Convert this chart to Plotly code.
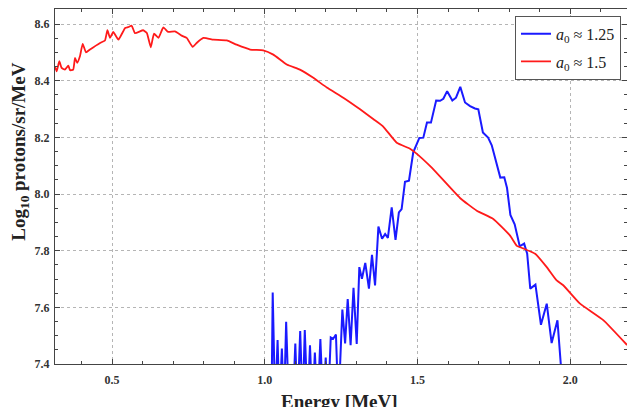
import plotly.graph_objects as go

# ---- data ----
red_energy = [0.313, 0.319, 0.3275, 0.335, 0.346, 0.357, 0.3625, 0.373, 0.379, 0.386,
              0.395, 0.404, 0.415, 0.428, 0.461, 0.477, 0.485, 0.4935, 0.504, 0.521,
              0.543, 0.553, 0.5645, 0.575, 0.602, 0.614, 0.627, 0.6375, 0.652, 0.668,
              0.684, 0.706, 0.728, 0.7445, 0.764, 0.777, 0.799, 0.832, 0.8755, 0.908,
              0.952, 0.995, 1.028, 1.072, 1.115, 1.159, 1.203, 1.257, 1.312, 1.356,
              1.387, 1.432, 1.4755, 1.492, 1.5465, 1.639, 1.694, 1.748, 1.803, 1.825,
              1.846, 1.885, 1.923, 1.9555, 1.977, 2.031, 2.108, 2.186]
red_log = [8.451, 8.433, 8.469, 8.445, 8.439, 8.453, 8.437, 8.439, 8.480, 8.463,
           8.486, 8.530, 8.500, 8.510, 8.533, 8.542, 8.578, 8.551, 8.572, 8.545,
           8.586, 8.589, 8.594, 8.568, 8.578, 8.568, 8.518, 8.566, 8.551, 8.588,
           8.572, 8.574, 8.559, 8.551, 8.519, 8.533, 8.551, 8.545, 8.542, 8.527,
           8.510, 8.507, 8.492, 8.457, 8.439, 8.410, 8.376, 8.340, 8.299, 8.264,
           8.239, 8.181, 8.160, 8.147, 8.093, 7.986, 7.941, 7.912, 7.853, 7.817,
           7.808, 7.789, 7.742, 7.695, 7.678, 7.614, 7.555, 7.467]

blue_energy = [1.022, 1.026, 1.034, 1.042, 1.048, 1.056, 1.063, 1.070, 1.079, 1.092,
               1.100, 1.107, 1.116, 1.124, 1.131, 1.140, 1.148, 1.156, 1.164, 1.173,
               1.182, 1.191, 1.1995, 1.207, 1.216, 1.224, 1.233, 1.241, 1.254, 1.263,
               1.2715, 1.281, 1.2905, 1.301, 1.3095, 1.318, 1.329, 1.341, 1.351, 1.361,
               1.372, 1.384, 1.394, 1.403, 1.4155, 1.428, 1.439, 1.448, 1.459, 1.472,
               1.486, 1.506, 1.519, 1.531, 1.544, 1.561, 1.574, 1.5845, 1.597, 1.614,
               1.626, 1.640, 1.6555, 1.672, 1.688, 1.699, 1.714, 1.731, 1.743, 1.759,
               1.771, 1.784, 1.793, 1.804, 1.818, 1.8345, 1.849, 1.859, 1.869, 1.886,
               1.904, 1.923, 1.939, 1.958, 1.976]
blue_log = [7.25, 7.652, 7.25, 7.485, 7.25, 7.455, 7.25, 7.549, 7.25, 7.25,
            7.472, 7.25, 7.516, 7.25, 7.520, 7.25, 7.466, 7.25, 7.440, 7.25,
            7.488, 7.25, 7.4225, 7.25, 7.494, 7.489, 7.504, 7.25, 7.592, 7.473,
            7.629, 7.466, 7.669, 7.471, 7.742, 7.701, 7.757, 7.666, 7.785, 7.677,
            7.885, 7.842, 7.859, 7.845, 7.953, 7.838, 7.935, 7.947, 8.043, 8.047,
            8.147, 8.198, 8.199, 8.252, 8.252, 8.330, 8.329, 8.336, 8.363, 8.330,
            8.340, 8.378, 8.323, 8.310, 8.302, 8.299, 8.217, 8.199, 8.172, 8.1055,
            8.058, 8.059, 8.021, 7.926, 7.893, 7.8155, 7.825, 7.789, 7.666, 7.680,
            7.5385, 7.613, 7.474, 7.554, 7.30]

x_ticks = [0.5, 1.0, 1.5, 2.0]
x_tick_labels = ["0.5", "1.0", "1.5", "2.0"]
y_ticks = [7.4, 7.6, 7.8, 8.0, 8.2, 8.4, 8.6]
y_tick_labels = ["7.4", "7.6", "7.8", "8.0", "8.2", "8.4", "8.6"]

blue_name = "<i>a</i><sub>0</sub> ≈ 1.25"
red_name = "<i>a</i><sub>0</sub> ≈ 1.5"

SERIF = "Liberation Serif"

fig = go.Figure()
fig.add_trace(go.Scatter(x=blue_energy, y=blue_log, mode="lines", name=blue_name,
                         legendgroup="b",
                         line=dict(color="#1a1aff", width=2)))
fig.add_trace(go.Scatter(x=red_energy, y=red_log, mode="lines", name=red_name,
                         legendgroup="r",
                         line=dict(color="#ff1a1a", width=1.8, shape="spline", smoothing=0.4)))

axis_common = dict(
    showline=True, linecolor="#444444", linewidth=1, mirror="allticks",
    ticks="inside", ticklen=5, tickwidth=1, tickcolor="#444444",
    showgrid=True, gridcolor="#b5b5b5", griddash="dot", gridwidth=1,
    zeroline=False,
    tickfont=dict(family=SERIF, size=12, color="#333333", weight="bold"),
)

fig.update_xaxes(range=[0.3134, 2.1857], tickvals=x_ticks, ticktext=x_tick_labels,
                 ticklabelstandoff=5,
                 minor=dict(dtick=0.1, tick0=0, ticks="inside", ticklen=3,
                            tickcolor="#444444", showgrid=False),
                 **axis_common)
fig.update_yaxes(range=[7.4, 8.653], tickvals=y_ticks, ticktext=y_tick_labels,
                 ticklabelstandoff=2,
                 minor=dict(dtick=0.05, tick0=0, ticks="inside", ticklen=3,
                            tickcolor="#444444", showgrid=False),
                 **axis_common)

fig.update_layout(
    width=627, height=407,
    margin=dict(l=55, r=0, t=9, b=43),
    paper_bgcolor="white", plot_bgcolor="white",
    showlegend=True,
    legend=dict(x=0.9895, y=0.981, xanchor="right", yanchor="top",
                bgcolor="white", bordercolor="#555555", borderwidth=1,
                font=dict(family=SERIF, size=16, color="#222222"),
                tracegroupgap=4, itemwidth=30),
    annotations=[
        dict(text="<b>Energy [MeV]</b>", xref="paper", yref="paper",
             x=0.498, y=-0.07, xanchor="center", yanchor="top", showarrow=False,
             font=dict(family=SERIF, size=19, color="#222222")),
        dict(text="<b>Log<sub>10</sub> protons/sr/MeV</b>", xref="paper", yref="paper",
             x=-0.0612, y=0.598, xanchor="center", yanchor="middle", showarrow=False,
             textangle=-90,
             font=dict(family=SERIF, size=19, color="#222222")),
    ],
)

fig.write_html("out.html")
